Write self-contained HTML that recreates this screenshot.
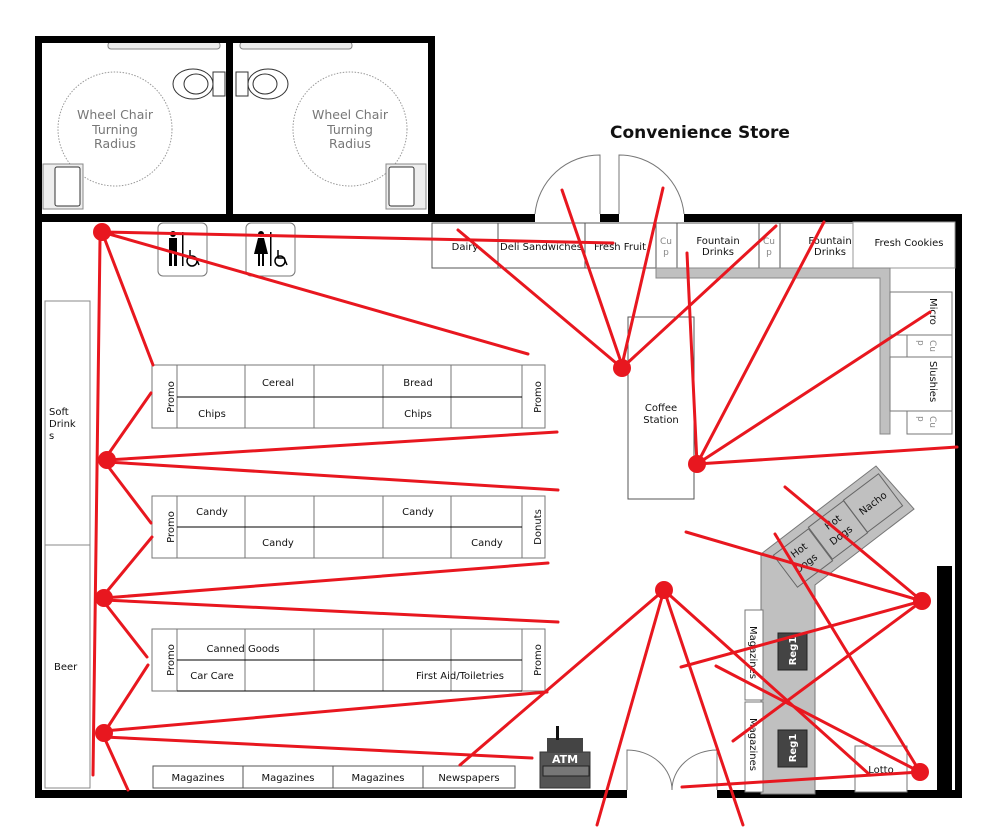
<!DOCTYPE html>
<html><head><meta charset="utf-8"><style>
html,body{margin:0;padding:0;background:#fff;}
svg{display:block;font-family:"DejaVu Sans","Liberation Sans",sans-serif;}
.t{font-size:10px;fill:#111;}
</style></head><body>
<svg width="992" height="832" viewBox="0 0 992 832" xmlns="http://www.w3.org/2000/svg">
<rect width="992" height="832" fill="#fff"/>
<!-- Title -->
<text x="700" y="138" text-anchor="middle" font-size="17" font-weight="bold" fill="#111">Convenience Store</text>

<!-- Restrooms -->
<g fill="none" stroke="#999" stroke-dasharray="1.5,1.5" stroke-width="1">
<circle cx="115" cy="129" r="57"/><circle cx="350" cy="129" r="57"/>
</g>
<g font-size="12.5" fill="#777" text-anchor="middle">
<text x="115" y="119">Wheel Chair</text><text x="115" y="134">Turning</text><text x="115" y="148">Radius</text>
<text x="350" y="119">Wheel Chair</text><text x="350" y="134">Turning</text><text x="350" y="148">Radius</text>
</g>
<!-- grab bars -->
<g fill="#eee" stroke="#888" stroke-width="1">
<rect x="108" y="42" width="112" height="7" rx="3"/><rect x="240" y="42" width="112" height="7" rx="3"/>
<rect x="43" y="164" width="40" height="45"/><rect x="386" y="164" width="40" height="45"/>
</g>
<g fill="#fff" stroke="#333" stroke-width="1">
<rect x="55" y="167" width="25" height="39" rx="2"/><rect x="389" y="167" width="25" height="39" rx="2"/>
<ellipse cx="193" cy="84" rx="20" ry="15"/><ellipse cx="268" cy="84" rx="20" ry="15"/>
<ellipse cx="196" cy="84" rx="12" ry="10"/><ellipse cx="265" cy="84" rx="12" ry="10"/>
<rect x="213" y="72" width="12" height="24"/><rect x="236" y="72" width="12" height="24"/>
</g>

<!-- Walls -->
<g fill="#000">
<rect x="35" y="36" width="400" height="7"/>
<rect x="35" y="36" width="7" height="762"/>
<rect x="226" y="36" width="7" height="181"/>
<rect x="428" y="36" width="7" height="181"/>
<rect x="35" y="214" width="500" height="8"/>
<rect x="600" y="214" width="19" height="8"/>
<rect x="684" y="214" width="278" height="8"/>
<rect x="955" y="214" width="7" height="584"/>
<rect x="35" y="790" width="592" height="8"/>
<rect x="717" y="790" width="245" height="8"/>
<rect x="937" y="566" width="15" height="228"/>
</g>
<!-- doors -->
<g fill="none" stroke="#777" stroke-width="1">
<path d="M600 214 V155 A65 65 0 0 0 535 214"/>
<path d="M619 214 V155 A65 65 0 0 1 684 214"/>
<path d="M627 790 V750 A45 40 0 0 1 672 790"/>
<path d="M717 790 V750 A45 40 0 0 0 672 790"/>
</g>

<!-- restroom signs -->
<g fill="#fff" stroke="#777"><rect x="158" y="223" width="49" height="53" rx="5"/><rect x="246" y="223" width="49" height="53" rx="5"/></g>
<g fill="#000">
<circle cx="173" cy="234" r="3"/><rect x="169" y="238" width="8" height="14"/><rect x="169" y="250" width="3" height="16"/><rect x="174" y="250" width="3" height="16"/>
<rect x="182" y="232" width="1.5" height="34"/>
<circle cx="261" cy="234" r="3"/><path d="M258 238h6l4 16h-14z"/><rect x="258" y="254" width="2" height="12"/><rect x="262" y="254" width="2" height="12"/>
<rect x="270" y="232" width="1.5" height="34"/>
</g>
<g fill="none" stroke="#000" stroke-width="1.5">
<circle cx="192" cy="261" r="5"/><path d="M190 250v8h6l3 7"/><circle cx="280" cy="261" r="5"/><path d="M278 250v8h6l3 7"/>
</g>

<!-- top counters -->
<g fill="#fff" stroke="#555" stroke-width="1">
<rect x="432" y="223" width="66" height="45"/><rect x="498" y="223" width="87" height="45"/><rect x="585" y="223" width="71" height="45"/>
<rect x="656" y="223" width="21" height="45"/><rect x="677" y="223" width="82" height="45"/><rect x="759" y="223" width="21" height="45"/><rect x="780" y="223" width="73" height="45"/>
<rect x="853" y="222" width="102" height="46" stroke="#999"/>
</g>
<g fill="#c0c0c0" stroke="#888"><path d="M656 268 H890 V434 H880 V278 H656 Z"/></g>
<g fill="#fff" stroke="#777">
<rect x="890" y="292" width="62" height="43"/><rect x="907" y="335" width="45" height="22"/><rect x="890" y="357" width="62" height="54"/><rect x="907" y="411" width="45" height="23"/>
</g>
<g class="t" text-anchor="middle" font-size="9.5">
<text x="465" y="250">Dairy</text><text x="541" y="250">Deli Sandwiches</text><text x="620" y="250">Fresh Fruit</text>
<text x="718" y="244">Fountain</text><text x="718" y="255">Drinks</text>
<text x="830" y="244">Fountain</text><text x="830" y="255">Drinks</text>
<text x="909" y="246">Fresh Cookies</text>
</g>
<g font-size="9" fill="#888" text-anchor="middle"><text x="666" y="244">Cu</text><text x="666" y="255">p</text><text x="769" y="244">Cu</text><text x="769" y="255">p</text></g>
<g class="t" font-size="9.5"><text transform="translate(930,298) rotate(90)">Micro</text><text transform="translate(930,361) rotate(90)">Slushies</text></g>
<g font-size="9" fill="#888"><text transform="translate(930,340) rotate(90)">Cu</text><text transform="translate(918,340) rotate(90)">p</text><text transform="translate(930,416) rotate(90)">Cu</text><text transform="translate(918,416) rotate(90)">p</text></g>

<!-- coffee -->
<rect x="628" y="317" width="66" height="182" fill="#fff" stroke="#555"/>
<text class="t" x="661" y="411" text-anchor="middle">Coffee</text><text class="t" x="661" y="423" text-anchor="middle">Station</text>

<!-- left coolers -->
<g fill="#fff" stroke="#888"><rect x="45" y="301" width="45" height="244"/><rect x="45" y="545" width="45" height="243"/></g>
<g class="t"><text x="49" y="415">Soft</text><text x="49" y="427">Drink</text><text x="49" y="439">s</text><text x="54" y="670">Beer</text></g>

<!-- shelves -->
<g fill="#fff" stroke="#777" stroke-width="1">
<rect x="152" y="365" width="25" height="63"/><rect x="522" y="365" width="23" height="63"/>
<rect x="177" y="365" width="345" height="63"/>
<rect x="152" y="496" width="25" height="62"/><rect x="522" y="496" width="23" height="62"/>
<rect x="177" y="496" width="345" height="62"/>
<rect x="152" y="629" width="25" height="62"/><rect x="522" y="629" width="23" height="62"/>
<rect x="177" y="629" width="345" height="62"/>
<path d="M245 365V428M314 365V428M383 365V428M451 365V428M245 496V558M314 496V558M383 496V558M451 496V558M245 629V691M314 629V691M383 629V691M451 629V691"/>
</g>
<g stroke="#000" stroke-width="1"><path d="M177 397H522M177 527H522M177 660H522M177 691H522"/></g>
<g class="t" text-anchor="middle">
<text x="278" y="386">Cereal</text><text x="418" y="386">Bread</text><text x="212" y="417">Chips</text><text x="418" y="417">Chips</text>
<text x="212" y="515">Candy</text><text x="418" y="515">Candy</text><text x="278" y="546">Candy</text><text x="487" y="546">Candy</text>
<text x="243" y="652">Canned Goods</text><text x="212" y="679">Car Care</text><text x="460" y="679">First Aid/Toiletries</text>
</g>
<g class="t" text-anchor="middle">
<text transform="translate(174,397) rotate(-90)">Promo</text><text transform="translate(541,397) rotate(-90)">Promo</text>
<text transform="translate(174,527) rotate(-90)">Promo</text><text transform="translate(541,527) rotate(-90)">Donuts</text>
<text transform="translate(174,660) rotate(-90)">Promo</text><text transform="translate(541,660) rotate(-90)">Promo</text>
</g>
<!-- magazines bottom -->
<g fill="#fff" stroke="#555"><rect x="153" y="766" width="90" height="22"/><rect x="243" y="766" width="90" height="22"/><rect x="333" y="766" width="90" height="22"/><rect x="423" y="766" width="92" height="22"/></g>
<g class="t" text-anchor="middle"><text x="198" y="781">Magazines</text><text x="288" y="781">Magazines</text><text x="378" y="781">Magazines</text><text x="469" y="781">Newspapers</text></g>
<!-- ATM -->
<rect x="540" y="752" width="50" height="36" fill="#555" stroke="#333"/>
<rect x="543" y="766" width="46" height="10" fill="#777" stroke="#222"/>
<rect x="547" y="738" width="36" height="14" fill="#444"/>
<rect x="556" y="726" width="3" height="14" fill="#111"/>
<text x="565" y="763" font-size="11" font-weight="bold" fill="#fff" text-anchor="middle">ATM</text>

<!-- hot food counter -->
<polygon points="761,554 876,466 914,509 815,585 815,794 761,794" fill="#c0c0c0" stroke="#777"/>
<g fill="none" stroke="#666">
<rect x="-22" y="-20" width="44" height="40" transform="translate(803,558) rotate(-37)"/>
<rect x="-22" y="-20" width="44" height="40" transform="translate(838,530) rotate(-37)"/>
<rect x="-22" y="-20" width="44" height="40" transform="translate(873,503) rotate(-37)"/>
</g>
<g class="t" text-anchor="middle" font-size="9.5">
<text transform="translate(801,553) rotate(-37)">Hot</text><text transform="translate(808,566) rotate(-37)">Dogs</text>
<text transform="translate(835,525) rotate(-37)">Hot</text><text transform="translate(843,538) rotate(-37)">Dogs</text>
<text transform="translate(875,506) rotate(-37)">Nacho</text>
</g>
<g fill="#fff" stroke="#777"><rect x="745" y="610" width="18" height="90"/><rect x="745" y="702" width="18" height="90"/><rect x="855" y="746" width="52" height="46"/></g>
<g class="t" font-size="9.5"><text transform="translate(750,626) rotate(90)">Magazines</text><text transform="translate(750,718) rotate(90)">Magazines</text><text x="881" y="773" text-anchor="middle">Lotto</text></g>
<g fill="#444" stroke="#222"><rect x="778" y="633" width="29" height="37"/><rect x="778" y="730" width="29" height="37"/></g>
<g font-size="10" font-weight="bold" fill="#fff" text-anchor="middle"><text transform="translate(796,651) rotate(-90)">Reg1</text><text transform="translate(796,748) rotate(-90)">Reg1</text></g>

<!-- red sight lines -->
<g stroke="#e8171f" stroke-width="3" fill="none" stroke-linecap="round">
<path d="M102 232L613 243M102 232L528 354M102 232L153 365M100 240L93 775"/>
<path d="M107 460L557 432M107 462L558 490M107 456L151 393M107 465L151 523"/>
<path d="M104 598L548 563M104 600L558 622M104 595L152 537M104 602L147 657"/>
<path d="M104 733L148 665M104 731L547 692M104 737L532 758M104 737L128 790"/>
<path d="M622 368L458 230M622 365L562 190M622 365L663 188M622 368L776 226"/>
<path d="M697 464L687 253M697 464L824 222M697 464L930 312M697 464L957 447"/>
<path d="M664 590L460 765M664 590L597 825M664 590L743 825M664 590L870 775"/>
<path d="M922 601L686 532M922 601L785 487M922 601L681 667M922 601L733 741"/>
<path d="M920 772L775 534M920 772L716 666M920 772L682 787"/>
</g>
<g fill="#e8171f">
<circle cx="102" cy="232" r="9"/><circle cx="107" cy="460" r="9"/><circle cx="104" cy="598" r="9"/><circle cx="104" cy="733" r="9"/>
<circle cx="622" cy="368" r="9"/><circle cx="697" cy="464" r="9"/><circle cx="664" cy="590" r="9"/><circle cx="922" cy="601" r="9"/><circle cx="920" cy="772" r="9"/>
</g>
</svg>
</body></html>
